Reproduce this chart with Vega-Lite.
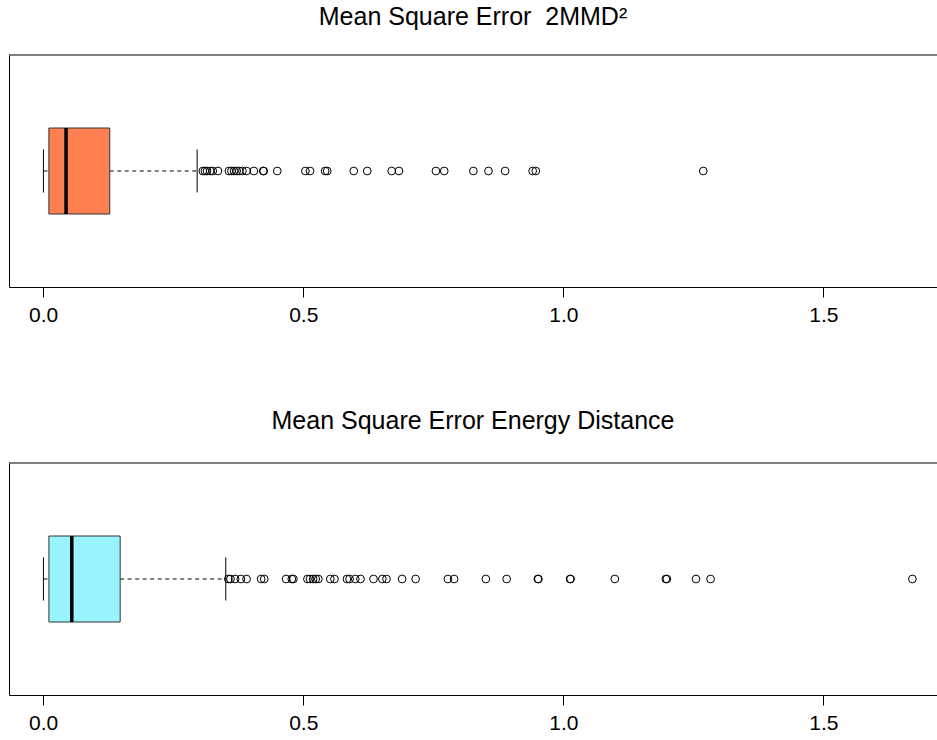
{
  "$schema": "https://vega.github.io/schema/vega-lite/v6.json",
  "background": "white",
  "padding": {"left": 8, "top": 4, "right": 0, "bottom": 0},
  "spacing": 176,
  "bounds": "flush",
  "config": {
    "font": "Liberation Sans",
    "view": {"stroke": null},
    "title": {"font": "Liberation Sans", "fontSize": 25, "fontWeight": "normal", "color": "black", "anchor": "middle", "baseline": "alphabetic"},
    "axis": {"grid": false, "title": null, "domainColor": "black", "tickColor": "black", "labelColor": "black", "labelFont": "Liberation Sans"}
  },
  "datasets": {
    "stats": [
      {"panel": "MMD", "lo": 0.0005, "q1": 0.011, "med": 0.044, "q3": 0.128, "hi": 0.296},
      {"panel": "ED", "lo": 0.0005, "q1": 0.011, "med": 0.055, "q3": 0.148, "hi": 0.351}
    ],
    "outliers": [
      {"panel": "MMD", "value": 0.307}, {"panel": "MMD", "value": 0.311}, {"panel": "MMD", "value": 0.315},
      {"panel": "MMD", "value": 0.321}, {"panel": "MMD", "value": 0.326}, {"panel": "MMD", "value": 0.336},
      {"panel": "MMD", "value": 0.357}, {"panel": "MMD", "value": 0.362}, {"panel": "MMD", "value": 0.367},
      {"panel": "MMD", "value": 0.372}, {"panel": "MMD", "value": 0.377}, {"panel": "MMD", "value": 0.383},
      {"panel": "MMD", "value": 0.391}, {"panel": "MMD", "value": 0.405}, {"panel": "MMD", "value": 0.423},
      {"panel": "MMD", "value": 0.424}, {"panel": "MMD", "value": 0.450}, {"panel": "MMD", "value": 0.504},
      {"panel": "MMD", "value": 0.513}, {"panel": "MMD", "value": 0.542}, {"panel": "MMD", "value": 0.546},
      {"panel": "MMD", "value": 0.597}, {"panel": "MMD", "value": 0.623}, {"panel": "MMD", "value": 0.670},
      {"panel": "MMD", "value": 0.684}, {"panel": "MMD", "value": 0.755}, {"panel": "MMD", "value": 0.771},
      {"panel": "MMD", "value": 0.827}, {"panel": "MMD", "value": 0.856}, {"panel": "MMD", "value": 0.888},
      {"panel": "MMD", "value": 0.941}, {"panel": "MMD", "value": 0.947}, {"panel": "MMD", "value": 1.269},
      {"panel": "ED", "value": 0.356}, {"panel": "ED", "value": 0.360}, {"panel": "ED", "value": 0.369},
      {"panel": "ED", "value": 0.380}, {"panel": "ED", "value": 0.391}, {"panel": "ED", "value": 0.419},
      {"panel": "ED", "value": 0.425}, {"panel": "ED", "value": 0.467}, {"panel": "ED", "value": 0.478},
      {"panel": "ED", "value": 0.481}, {"panel": "ED", "value": 0.508}, {"panel": "ED", "value": 0.513},
      {"panel": "ED", "value": 0.519}, {"panel": "ED", "value": 0.524}, {"panel": "ED", "value": 0.529},
      {"panel": "ED", "value": 0.552}, {"panel": "ED", "value": 0.560}, {"panel": "ED", "value": 0.584},
      {"panel": "ED", "value": 0.589}, {"panel": "ED", "value": 0.600}, {"panel": "ED", "value": 0.610},
      {"panel": "ED", "value": 0.635}, {"panel": "ED", "value": 0.652}, {"panel": "ED", "value": 0.660},
      {"panel": "ED", "value": 0.690}, {"panel": "ED", "value": 0.716}, {"panel": "ED", "value": 0.778},
      {"panel": "ED", "value": 0.790}, {"panel": "ED", "value": 0.851}, {"panel": "ED", "value": 0.891},
      {"panel": "ED", "value": 0.951}, {"panel": "ED", "value": 0.952}, {"panel": "ED", "value": 1.013},
      {"panel": "ED", "value": 1.014}, {"panel": "ED", "value": 1.099}, {"panel": "ED", "value": 1.197},
      {"panel": "ED", "value": 1.199}, {"panel": "ED", "value": 1.255}, {"panel": "ED", "value": 1.283},
      {"panel": "ED", "value": 1.671}
    ]
  },
  "vconcat": [
    {
      "width": 928,
      "height": 232,
      "title": {"text": "Mean Square Error \u00a02MMD\u00b2", "offset": 25},
      "layer": [
        {
          "data": {"name": "stats"},
          "transform": [{"filter": "datum.panel === 'MMD'"}],
          "mark": {"type": "rule", "color": "black", "strokeWidth": 1},
          "encoding": {
            "x": {"datum": -0.0657, "type": "quantitative", "scale": {"domain": [-0.0657, 1.7183], "nice": false, "zero": false},
                  "axis": {"orient": "bottom", "values": [0, 0.5, 1, 1.5], "format": ".1f", "domain": true, "ticks": true, "tickSize": 10, "labelFontSize": 21, "labelPadding": 7, "labelFlush": false}},
            "x2": {"datum": 1.7183},
            "y": {"datum": 1, "type": "quantitative", "scale": {"domain": [0, 1], "nice": false, "zero": false},
                  "axis": {"orient": "left", "domain": true, "ticks": false, "labels": false}}
          }
        },
        {
          "data": {"name": "stats"},
          "transform": [{"filter": "datum.panel === 'MMD'"}],
          "mark": {"type": "rule", "color": "black", "strokeWidth": 1, "strokeDash": [4, 3.5]},
          "encoding": {"x": {"field": "lo", "type": "quantitative"}, "x2": {"field": "q1"}, "y": {"datum": 0.5, "type": "quantitative"}}
        },
        {
          "data": {"name": "stats"},
          "transform": [{"filter": "datum.panel === 'MMD'"}],
          "mark": {"type": "rule", "color": "black", "strokeWidth": 1, "strokeDash": [4, 3.5]},
          "encoding": {"x": {"field": "q3", "type": "quantitative"}, "x2": {"field": "hi"}, "y": {"datum": 0.5, "type": "quantitative"}}
        },
        {
          "data": {"name": "stats"},
          "transform": [{"filter": "datum.panel === 'MMD'"}],
          "mark": {"type": "rule", "color": "black", "strokeWidth": 1},
          "encoding": {"x": {"field": "lo", "type": "quantitative"}, "y": {"datum": 0.4073, "type": "quantitative"}, "y2": {"datum": 0.5927}}
        },
        {
          "data": {"name": "stats"},
          "transform": [{"filter": "datum.panel === 'MMD'"}],
          "mark": {"type": "rule", "color": "black", "strokeWidth": 1},
          "encoding": {"x": {"field": "hi", "type": "quantitative"}, "y": {"datum": 0.4073, "type": "quantitative"}, "y2": {"datum": 0.5927}}
        },
        {
          "data": {"name": "stats"},
          "transform": [{"filter": "datum.panel === 'MMD'"}],
          "mark": {"type": "rect", "fill": "#FF7F50", "stroke": "#333333", "strokeWidth": 1},
          "encoding": {"x": {"field": "q1", "type": "quantitative"}, "x2": {"field": "q3"}, "y": {"datum": 0.3147, "type": "quantitative"}, "y2": {"datum": 0.6853}}
        },
        {
          "data": {"name": "stats"},
          "transform": [{"filter": "datum.panel === 'MMD'"}],
          "mark": {"type": "rule", "color": "black", "strokeWidth": 3.5},
          "encoding": {"x": {"field": "med", "type": "quantitative"}, "y": {"datum": 0.3147, "type": "quantitative"}, "y2": {"datum": 0.6853}}
        },
        {
          "data": {"name": "outliers"},
          "transform": [{"filter": "datum.panel === 'MMD'"}],
          "mark": {"type": "point", "shape": "circle", "filled": false, "stroke": "black", "strokeWidth": 1, "size": 60, "opacity": 1},
          "encoding": {"x": {"field": "value", "type": "quantitative"}, "y": {"datum": 0.5, "type": "quantitative"}}
        }
      ]
    },
    {
      "width": 928,
      "height": 232,
      "title": {"text": "Mean Square Error Energy Distance", "offset": 29},
      "layer": [
        {
          "data": {"name": "stats"},
          "transform": [{"filter": "datum.panel === 'ED'"}],
          "mark": {"type": "rule", "color": "black", "strokeWidth": 1},
          "encoding": {
            "x": {"datum": -0.0657, "type": "quantitative", "scale": {"domain": [-0.0657, 1.7183], "nice": false, "zero": false},
                  "axis": {"orient": "bottom", "values": [0, 0.5, 1, 1.5], "format": ".1f", "domain": true, "ticks": true, "tickSize": 10, "labelFontSize": 21, "labelPadding": 7, "labelFlush": false}},
            "x2": {"datum": 1.7183},
            "y": {"datum": 1, "type": "quantitative", "scale": {"domain": [0, 1], "nice": false, "zero": false},
                  "axis": {"orient": "left", "domain": true, "ticks": false, "labels": false}}
          }
        },
        {
          "data": {"name": "stats"},
          "transform": [{"filter": "datum.panel === 'ED'"}],
          "mark": {"type": "rule", "color": "black", "strokeWidth": 1, "strokeDash": [4, 3.5]},
          "encoding": {"x": {"field": "lo", "type": "quantitative"}, "x2": {"field": "q1"}, "y": {"datum": 0.5, "type": "quantitative"}}
        },
        {
          "data": {"name": "stats"},
          "transform": [{"filter": "datum.panel === 'ED'"}],
          "mark": {"type": "rule", "color": "black", "strokeWidth": 1, "strokeDash": [4, 3.5]},
          "encoding": {"x": {"field": "q3", "type": "quantitative"}, "x2": {"field": "hi"}, "y": {"datum": 0.5, "type": "quantitative"}}
        },
        {
          "data": {"name": "stats"},
          "transform": [{"filter": "datum.panel === 'ED'"}],
          "mark": {"type": "rule", "color": "black", "strokeWidth": 1},
          "encoding": {"x": {"field": "lo", "type": "quantitative"}, "y": {"datum": 0.4073, "type": "quantitative"}, "y2": {"datum": 0.5927}}
        },
        {
          "data": {"name": "stats"},
          "transform": [{"filter": "datum.panel === 'ED'"}],
          "mark": {"type": "rule", "color": "black", "strokeWidth": 1},
          "encoding": {"x": {"field": "hi", "type": "quantitative"}, "y": {"datum": 0.4073, "type": "quantitative"}, "y2": {"datum": 0.5927}}
        },
        {
          "data": {"name": "stats"},
          "transform": [{"filter": "datum.panel === 'ED'"}],
          "mark": {"type": "rect", "fill": "#98F5FF", "stroke": "#333333", "strokeWidth": 1},
          "encoding": {"x": {"field": "q1", "type": "quantitative"}, "x2": {"field": "q3"}, "y": {"datum": 0.3147, "type": "quantitative"}, "y2": {"datum": 0.6853}}
        },
        {
          "data": {"name": "stats"},
          "transform": [{"filter": "datum.panel === 'ED'"}],
          "mark": {"type": "rule", "color": "black", "strokeWidth": 3.5},
          "encoding": {"x": {"field": "med", "type": "quantitative"}, "y": {"datum": 0.3147, "type": "quantitative"}, "y2": {"datum": 0.6853}}
        },
        {
          "data": {"name": "outliers"},
          "transform": [{"filter": "datum.panel === 'ED'"}],
          "mark": {"type": "point", "shape": "circle", "filled": false, "stroke": "black", "strokeWidth": 1, "size": 60, "opacity": 1},
          "encoding": {"x": {"field": "value", "type": "quantitative"}, "y": {"datum": 0.5, "type": "quantitative"}}
        }
      ]
    }
  ]
}
